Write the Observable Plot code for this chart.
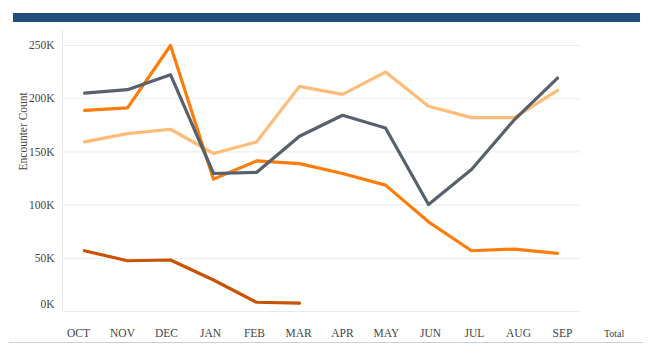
<!DOCTYPE html>
<html>
<head>
<meta charset="utf-8">
<script src="https://cdn.jsdelivr.net/npm/d3@7"></script>
<script src="https://cdn.jsdelivr.net/npm/@observablehq/plot@0.6"></script>
<style>
  html, body { margin: 0; padding: 0; background: #fff; }
  #wrap { position: relative; width: 653px; height: 355px; overflow: hidden; }
  #wrap svg { position: absolute; top: 0; left: 0; background: transparent; }
  #wrap svg text { font-family: "Liberation Serif", "Times New Roman", serif; font-weight: normal; }
  #banner { position: absolute; left: 13px; top: 13px; width: 627px; height: 9px; background: #1f4e78; }
  #sep { position: absolute; left: 9px; top: 342px; width: 634px; height: 1px; background: #cfcfcf; }
</style>
</head>
<body>
<div id="wrap"><div id="banner"></div><div id="sep"></div></div>
<script>
// ---- data ----
const months = ["OCT","NOV","DEC","JAN","FEB","MAR","APR","MAY","JUN","JUL","AUG","SEP"];
const totalLabel = "Total";
const yTicks = [0, 50000, 100000, 150000, 200000, 250000];
const grayVals   = [205300, 208500, 222600, 129700, 130700, 164700, 184400, 172500, 100600, 133500, 180400, 219400];
const orangeVals = [189100, 191300, 250000, 124400, 141500, 139000, 129700, 118800, 84300, 57100, 58700, 54700];
const lightVals  = [159400, 167200, 171300, 148500, 159400, 211600, 204100, 225000, 192900, 182200, 182200, 207900];
const darkVals   = [57100, 47700, 48400, 29600, 8700, 7800];
const seriesNames = ["Series A", "Series B", "Series C", "Series D"];
const seriesColors = ["#c85200", "#ffbc79", "#fc7d0b", "#57606c"];

const seriesVals = [darkVals, lightVals, orangeVals, grayVals];
const rows = [];
seriesVals.forEach((vals, i) => vals.forEach((v, j) => rows.push({series: seriesNames[i], month: months[j], value: v})));

const fmt = v => (v / 1000) + "K";
const font = {fontFamily: "Liberation Serif, serif", fontSize: "11.5px", color: "#444", background: "transparent"};

const chart = Plot.plot({
  width: 653, height: 355,
  marginTop: 45, marginBottom: 44, marginLeft: 62, marginRight: 73,
  style: font,
  x: {type: "point", domain: months, range: [82, 559], padding: 0, axis: null},
  y: {domain: [0, 250000], axis: null},
  color: {domain: seriesNames, range: seriesColors},
  marks: [
    Plot.ruleY(yTicks, {stroke: "#ebebeb", strokeWidth: 1}),
    Plot.frame({anchor: "left", stroke: "#e6e6e6", insetTop: -15}),
    Plot.text(yTicks.filter(v => v > 0), {y: d => d, text: fmt, frameAnchor: "left", dx: -8, textAnchor: "end"}),
    Plot.text(yTicks.filter(v => v === 0), {y: d => d, text: fmt, frameAnchor: "left", dx: -8, dy: -7, textAnchor: "end"}),
    Plot.text(["Encounter Count"], {y: 125000, text: d => d, frameAnchor: "left", dx: -39, dy: -8, rotate: -90}),
    Plot.line(rows, {x: "month", y: "value", z: "series", stroke: "series", strokeWidth: 3.2, strokeLinejoin: "round", strokeLinecap: "round"})
  ]
});

const labels = Plot.plot({
  width: 653, height: 355,
  marginTop: 0, marginBottom: 0, marginLeft: 0, marginRight: 0,
  style: font,
  x: {type: "point", domain: [...months, totalLabel], range: [75, 608], padding: 0, axis: null},
  y: {axis: null},
  marks: [
    Plot.text(months, {x: d => d, text: d => d, frameAnchor: "top", dy: 333, lineAnchor: "middle"}),
    Plot.text([totalLabel], {x: d => d, text: d => d, frameAnchor: "top", dy: 333, dx: 7.6, lineAnchor: "middle", fontSize: 10})
  ]
});

const wrap = document.getElementById("wrap");
wrap.appendChild(chart);
wrap.appendChild(labels);
</script>
</body>
</html>
